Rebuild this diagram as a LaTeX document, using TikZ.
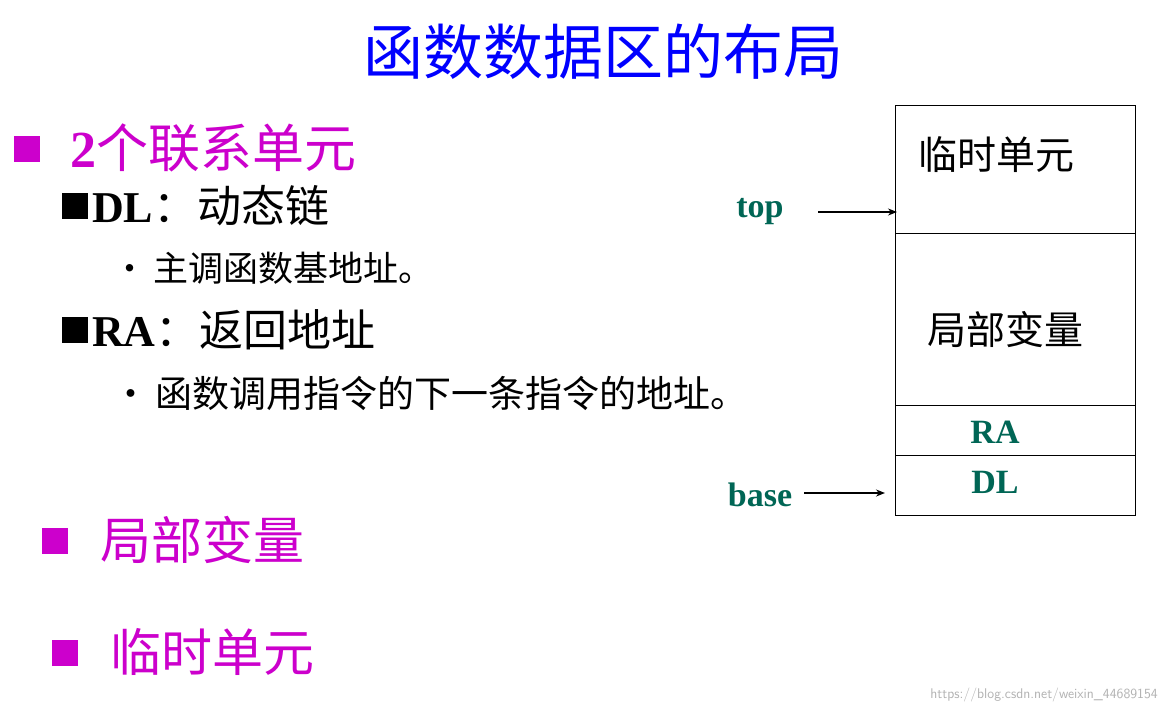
\documentclass[tikz,border=0pt]{standalone}
\usepackage{fontspec}
\usetikzlibrary{arrows.meta}
\setmainfont{Liberation Serif}
\newfontfamily\cjk{Noto Sans CJK SC}
\definecolor{tgreen}{RGB}{0,102,85}
\definecolor{mag}{RGB}{204,0,204}
\definecolor{tblue}{RGB}{0,0,255}
\begin{document}
\begin{tikzpicture}[x=1pt,y=-1pt,
  txt/.style={anchor=west,inner sep=0pt},
  lab/.style={text=tgreen,font=\bfseries\fontsize{34}{36}\selectfont,inner sep=0pt},
  arr/.style={-{Stealth[length=9pt,width=7pt]},line width=2pt}]
\useasboundingbox (0,0) rectangle (1165,714);
\fill[white] (0,0) rectangle (1165,714);
\node[text=tblue,font=\cjk\fontsize{60}{64}\selectfont,inner sep=0pt] (title) at (603,52) {函数数据区的布局};
% bullets
\fill[mag] (14,136) rectangle (40,162);
\node[txt,text=mag,font=\fontsize{52}{56}\selectfont] (u) at (70,148) {\textbf{2}{\cjk 个联系单元}};
\fill[black] (62,193) rectangle (88,219);
\node[txt,font=\fontsize{44}{48}\selectfont] (dl) at (92,206) {\textbf{DL}{\cjk ：动态链}};
\node[txt,font=\cjk\fontsize{35}{38}\selectfont] (dl1) at (112,268) {•\,主调函数基地址。};
\fill[black] (62,317) rectangle (88,343);
\node[txt,font=\fontsize{44}{48}\selectfont] (ra) at (92,330) {\textbf{RA}{\cjk ：返回地址}};
\node[txt,font=\cjk\fontsize{37}{40}\selectfont] (ra1) at (112,393) {•\,函数调用指令的下一条指令的地址。};
\fill[mag] (42,528) rectangle (68,554);
\node[txt,text=mag,font=\cjk\fontsize{51}{55}\selectfont] (lv) at (100,540) {局部变量};
\fill[mag] (52,640) rectangle (78,666);
\node[txt,text=mag,font=\cjk\fontsize{51}{55}\selectfont] (tu) at (110,652) {临时单元};
% stack
\draw[line width=0.8pt] (895,105) rectangle (1135,515);
\draw[line width=0.8pt] (895,233) -- (1135,233) (895,405) -- (1135,405) (895,455) -- (1135,455);
\node[font=\cjk\fontsize{39}{42}\selectfont,inner sep=0pt] (s1) at (996,155) {临时单元};
\node[font=\cjk\fontsize{39}{42}\selectfont,inner sep=0pt] (s2) at (1005,330) {局部变量};
\node[lab] (s3) at (995,432) {RA};
\node[lab] (s4) at (995,482) {DL};
\coordinate (ttip) at (897,212);
\coordinate (btip) at (885,493);
\coordinate (tstart) at (818,212);
\coordinate (bstart) at (804,493);
\node[lab] (top) at (760,212) {top};
\node[lab] (base) at (760,495) {base};
\draw[arr] (tstart) -- (ttip);
\draw[arr] (bstart) -- (btip);
\node[text=gray!60,font=\sffamily\fontsize{14}{15}\selectfont,anchor=east,inner sep=0pt] (wm) at (1158,695) {https://blog.csdn.net/weixin\_44689154};
\end{tikzpicture}
\end{document}
